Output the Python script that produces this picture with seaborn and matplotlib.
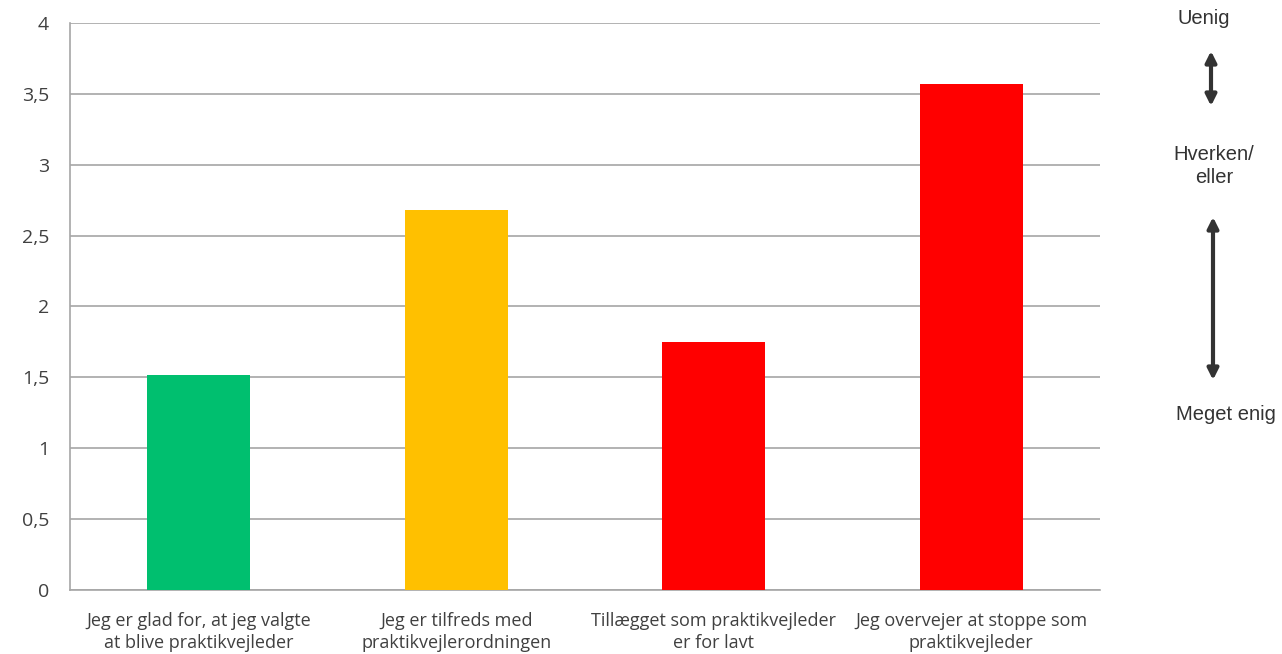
import matplotlib.pyplot as plt
import seaborn as sns
import pandas as pd

# Data
udsagn = ['Jeg er glad for, at jeg valgte\nat blive praktikvejleder',
          'Jeg er tilfreds med\npraktikvejlerordningen',
          'Tillægget som praktikvejleder\ner for lavt',
          'Jeg overvejer at stoppe som\npraktikvejleder']
gennemsnit = [1.52, 2.68, 1.75, 3.57]
farver = ['#00BF6F', '#FFC000', '#FF0000', '#FF0000']
y_ticks = [0, 0.5, 1, 1.5, 2, 2.5, 3, 3.5, 4]
y_labels = ['0', '0,5', '1', '1,5', '2', '2,5', '3', '3,5', '4']

df = pd.DataFrame({'Udsagn': udsagn, 'Gennemsnit': gennemsnit})

sns.set_style('white')
plt.rcParams['font.family'] = ['Open Sans', 'DejaVu Sans']

fig = plt.figure(figsize=(12.82, 6.54), dpi=100)
ax = fig.add_axes([0.0546, 0.0979, 0.858 - 0.0546, 0.9648 - 0.0979])

sns.barplot(data=df, x='Udsagn', y='Gennemsnit', hue='Udsagn', palette=farver,
            legend=False, width=0.4, saturation=1, linewidth=0, ax=ax, zorder=3)

grid_col = '#A6A6A6'
ax.set_ylim(0, 4)
ax.set_xlim(-0.5, 3.5)
ax.set_yticks(y_ticks)
ax.set_yticklabels(y_labels, fontsize=14, color='#404040')
ax.yaxis.grid(True, color=grid_col, linewidth=1.2, zorder=0)
ax.tick_params(axis='y', length=7, color=grid_col, width=1.2, pad=8)
ax.tick_params(axis='x', which='major', length=0, labelsize=13, labelcolor='#404040', pad=16)
for lbl in ax.get_xticklabels():
    lbl.set_linespacing(1.3)
ax.set_xticks([-0.5, 0.5, 1.5, 2.5, 3.5], minor=True)
ax.tick_params(axis='x', which='minor', length=7, color=grid_col, width=1.2)
ax.set_xlabel('')
ax.set_ylabel('')
for s in ['top', 'right']:
    ax.spines[s].set_visible(False)
for s in ['left', 'bottom']:
    ax.spines[s].set_color(grid_col)
    ax.spines[s].set_linewidth(1.2)

# Skala til højre
tekst_kw = dict(ha='center', va='center', fontsize=14.5, color='#333333',
                family=['Liberation Sans', 'DejaVu Sans'])
fig.text(1204 / 1282, 1 - 18 / 654, 'Uenig', **tekst_kw)
fig.text(1214 / 1282, 1 - 166 / 654, 'Hverken/\neller', linespacing=1.25, **tekst_kw)
fig.text(1226 / 1282, 1 - 414 / 654, 'Meget enig', **tekst_kw)

pil = dict(arrowstyle='<|-|>', color='#333333', lw=3, mutation_scale=16, shrinkA=0, shrinkB=0)
fig.add_artist(plt.matplotlib.patches.FancyArrowPatch(
    (1211 / 1282, 1 - 51 / 654), (1211 / 1282, 1 - 106 / 654),
    transform=fig.transFigure, **pil))
fig.add_artist(plt.matplotlib.patches.FancyArrowPatch(
    (1213 / 1282, 1 - 217 / 654), (1213 / 1282, 1 - 380 / 654),
    transform=fig.transFigure, **pil))

fig.savefig('out.png', dpi=100)
